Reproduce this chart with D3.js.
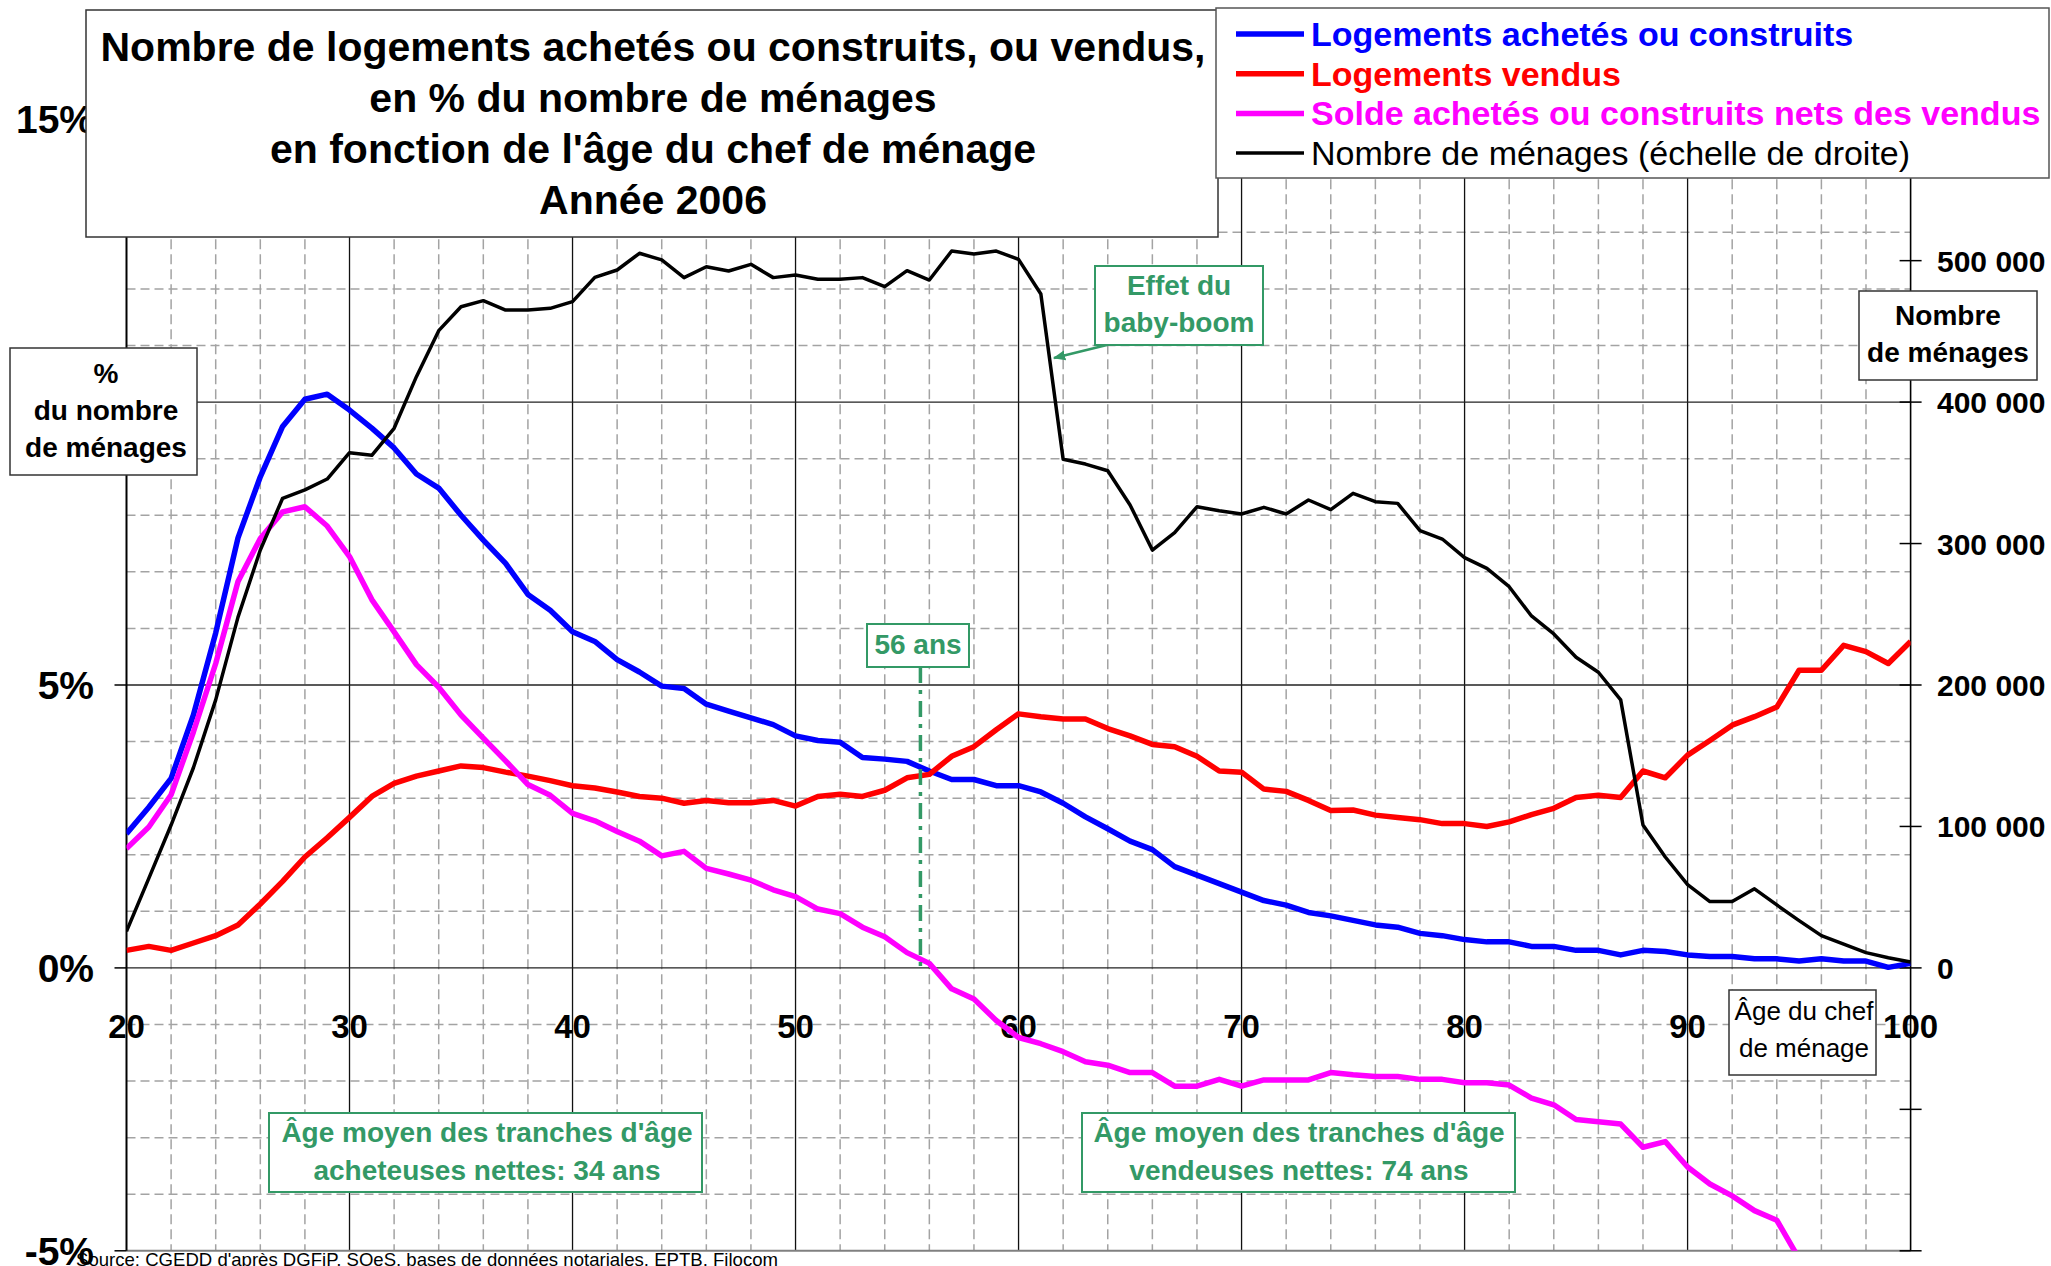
<!DOCTYPE html>
<html>
<head>
<meta charset="utf-8">
<script src="https://cdn.jsdelivr.net/npm/d3@7"></script>
<style>
  body { margin: 0; background: #fff; }
  text { font-family: "Liberation Sans", Arial, sans-serif; }
</style>
</head>
<body>
<script>
// age du chef de menage (categories)
var ages = [20,21,22,23,24,25,26,27,28,29,30,31,32,33,34,35,36,37,38,39,
	40,41,42,43,44,45,46,47,48,49,50,51,52,53,54,55,56,57,58,59,
	60,61,62,63,64,65,66,67,68,69,70,71,72,73,74,75,76,77,78,79,
	80,81,82,83,84,85,86,87,88,89,90,91,92,93,94,95,96,97,98,99,100];

// logements achetes ou construits, % des menages
var achetes = [2.37,2.84,3.35,4.47,5.92,7.60,8.68,9.57,10.05,10.14,
	9.86,9.54,9.19,8.73,8.48,8.00,7.56,7.15,6.60,6.32,
	5.94,5.77,5.45,5.23,4.98,4.94,4.66,4.54,4.42,4.30,
	4.10,4.02,3.99,3.72,3.69,3.65,3.48,3.33,3.33,3.22,
	3.22,3.11,2.91,2.67,2.46,2.24,2.09,1.79,1.64,1.49,
	1.34,1.19,1.11,0.98,0.92,0.84,0.76,0.72,0.61,0.57,
	0.50,0.46,0.46,0.38,0.38,0.31,0.31,0.23,0.31,0.29,
	0.23,0.20,0.20,0.16,0.16,0.12,0.16,0.12,0.12,0.01,0.08];

// logements vendus, % des menages
var vendus = [0.31,0.38,0.31,0.44,0.57,0.76,1.13,1.53,1.96,2.30,
	2.66,3.03,3.26,3.39,3.48,3.57,3.54,3.46,3.39,3.31,
	3.22,3.18,3.11,3.03,3.00,2.91,2.96,2.92,2.92,2.96,
	2.86,3.03,3.07,3.03,3.14,3.36,3.42,3.74,3.91,4.21,
	4.49,4.44,4.40,4.40,4.23,4.10,3.95,3.91,3.74,3.48,
	3.46,3.16,3.12,2.96,2.78,2.79,2.70,2.66,2.62,2.55,
	2.55,2.50,2.58,2.71,2.82,3.01,3.05,3.01,3.48,3.36,
	3.76,4.02,4.29,4.44,4.61,5.26,5.26,5.70,5.59,5.38,5.77];

// solde achetes ou construits nets des vendus (visible jusqu'a 95 ans)
var solde = [2.11,2.49,3.06,4.17,5.38,6.83,7.59,8.06,8.15,7.81,
	7.27,6.51,5.94,5.36,4.96,4.47,4.06,3.66,3.24,3.05,
	2.73,2.60,2.41,2.24,1.98,2.06,1.76,1.66,1.55,1.38,
	1.26,1.04,0.96,0.72,0.55,0.27,0.08,-0.37,-0.55,-0.93,
	-1.23,-1.34,-1.48,-1.66,-1.72,-1.85,-1.85,-2.09,-2.09,-1.97,
	-2.09,-1.98,-1.98,-1.98,-1.85,-1.89,-1.92,-1.92,-1.97,-1.97,
	-2.03,-2.03,-2.07,-2.30,-2.42,-2.68,-2.72,-2.76,-3.17,-3.07,
	-3.52,-3.82,-4.03,-4.29,-4.46,-5.14];

// nombre de menages (echelle de droite)
var menages = [25800,63300,101000,141500,189500,248000,295400,332000,337900,345600,
	364200,362400,381500,418000,450500,467400,471700,465100,465100,466300,
	471000,488200,493400,505200,500500,488000,495700,492700,497400,488000,
	489900,486800,486800,488000,481600,492900,486300,506800,504700,506800,
	500900,476400,359600,356200,351500,327300,295400,307700,326000,323200,
	320900,325600,320900,330800,324000,335500,329600,328400,309100,303200,
	290000,282500,269500,248800,236100,219600,209000,189500,101000,78400,
	58900,46900,46900,55900,44500,33400,22800,16800,10800,7200,4200];

var xTicks = [20,30,40,50,60,70,80,90,100];
var xMinor = [22,24,26,28,32,34,36,38,42,44,46,48,52,54,56,58,62,64,66,68,72,74,76,78,82,84,86,88,92,94,96,98];
var yTicks = [-5,0,5,10,15];
var yLabels = [-5,0,5,15]; // 10% est cache par l'encadre
var yMinor = [-4,-3,-2,-1,1,2,3,4,6,7,8,9,11,12,13,14];
var yRightTicks = [-200000,-100000,0,100000,200000,300000,400000,500000];

var titleLines = ["Nombre de logements achetés ou construits, ou vendus,",
	"en % du nombre de ménages",
	"en fonction de l'âge du chef de ménage",
	"Année 2006"];
var legendLabels = ["Logements achetés ou construits", "Logements vendus",
	"Solde achetés ou construits nets des vendus", "Nombre de ménages (échelle de droite)"];
var seriesColors = ["#0000ff", "#ff0000", "#ff00ff", "#000000"];

var green = "#339966";

setChart();

function setChart(){
	var width = 2051, height = 1266;
	var left = 126.5, right = 1910.6, top = 119.2, bottom = 1250.8;

	var svg = d3.select("body").append("svg")
		.attr("width", width)
		.attr("height", height);

	var x = d3.scaleLinear().domain([20, 100]).range([left, right]);
	var y = d3.scaleLinear().domain([-5, 15]).range([bottom, top]);
	var y2 = d3.scaleLinear().domain([-200000, 600000]).range([bottom, top]);

	//clip for plot area
	svg.append("clipPath").attr("id", "plot")
		.append("rect")
		.attr("x", left).attr("y", top)
		.attr("width", right - left).attr("height", bottom - top);

	//minor dashed gridlines
	var grid = svg.append("g");
	grid.selectAll(".vmin").data(xMinor).enter().append("line")
		.attr("x1", function(d){ return x(d); }).attr("x2", function(d){ return x(d); })
		.attr("y1", top).attr("y2", bottom)
		.attr("stroke", "#a3a3a3").attr("stroke-width", 1.5).attr("stroke-dasharray", "10,5");
	grid.selectAll(".hmin").data(yMinor).enter().append("line")
		.attr("x1", left).attr("x2", right)
		.attr("y1", function(d){ return y(d); }).attr("y2", function(d){ return y(d); })
		.attr("stroke", "#a3a3a3").attr("stroke-width", 1.5).attr("stroke-dasharray", "9,5");

	//major gridlines
	grid.selectAll(".vmaj").data(xTicks.slice(1, -1)).enter().append("line")
		.attr("x1", function(d){ return x(d); }).attr("x2", function(d){ return x(d); })
		.attr("y1", top).attr("y2", bottom)
		.attr("stroke", "#111").attr("stroke-width", 1.3);
	grid.selectAll(".hmaj").data([0, 5, 10, 15]).enter().append("line")
		.attr("x1", left).attr("x2", right)
		.attr("y1", function(d){ return y(d); }).attr("y2", function(d){ return y(d); })
		.attr("stroke", "#222").attr("stroke-width", 1.4);
	grid.append("line")
		.attr("x1", left).attr("x2", right).attr("y1", y(-5)).attr("y2", y(-5))
		.attr("stroke", "#808080").attr("stroke-width", 2);

	//left axis
	svg.append("line").attr("x1", left).attr("x2", left).attr("y1", top).attr("y2", bottom)
		.attr("stroke", "#000").attr("stroke-width", 2);
	svg.selectAll(".ltick").data(yTicks).enter().append("line")
		.attr("x1", left - 12).attr("x2", left)
		.attr("y1", function(d){ return y(d); }).attr("y2", function(d){ return y(d); })
		.attr("stroke", "#000").attr("stroke-width", 1.5);
	svg.selectAll(".llab").data(yLabels).enter().append("text")
		.attr("x", 94).attr("y", function(d){ return y(d) + 14; })
		.attr("text-anchor", "end")
		.attr("font-size", 39).attr("font-weight", "bold")
		.text(function(d){ return d + "%"; });

	//right axis
	svg.append("line").attr("x1", right).attr("x2", right).attr("y1", top).attr("y2", bottom)
		.attr("stroke", "#000").attr("stroke-width", 1.6);
	svg.selectAll(".rtick").data(yRightTicks).enter().append("line")
		.attr("x1", right - 11).attr("x2", right + 11)
		.attr("y1", function(d){ return y2(d); }).attr("y2", function(d){ return y2(d); })
		.attr("stroke", "#000").attr("stroke-width", 1.5);
	var fmt = d3.format(",");
	svg.selectAll(".rlab").data(yRightTicks.filter(function(d){ return d >= 0; })).enter().append("text")
		.attr("x", 1937).attr("y", function(d){ return y2(d) + 11; })
		.attr("font-size", 30).attr("font-weight", "bold")
		.text(function(d){ return fmt(d).replace(/,/g, " "); });

	//x labels (inside plot, under 0 line)
	svg.selectAll(".xlab").data(xTicks).enter().append("text")
		.attr("x", function(d){ return x(d); }).attr("y", 1038)
		.attr("text-anchor", "middle")
		.attr("font-size", 33).attr("font-weight", "bold")
		.text(function(d){ return d; });

	//series
	var lineL = d3.line()
		.x(function(d, i){ return x(ages[i]); })
		.y(function(d){ return y(d); });
	var lineR = d3.line()
		.x(function(d, i){ return x(ages[i]); })
		.y(function(d){ return y2(d); });

	var plot = svg.append("g").attr("clip-path", "url(#plot)");
	[achetes, vendus, solde].forEach(function(s, i){
		plot.append("path").datum(s)
			.attr("d", lineL)
			.attr("fill", "none")
			.attr("stroke", seriesColors[i])
			.attr("stroke-width", 5.5)
			.attr("stroke-linejoin", "round");
	});
	plot.append("path").datum(menages)
		.attr("d", lineR)
		.attr("fill", "none")
		.attr("stroke", "#000")
		.attr("stroke-width", 3.5)
		.attr("stroke-linejoin", "round");

	//56 ans marker
	svg.append("line")
		.attr("x1", x(55.6)).attr("x2", x(55.6))
		.attr("y1", 667).attr("y2", y(0))
		.attr("stroke", green).attr("stroke-width", 3.5)
		.attr("stroke-dasharray", "16,7,4,7");
	box(867, 624, 102, 43, green, 2);
	svg.append("text").attr("x", 918).attr("y", 654)
		.attr("text-anchor", "middle").attr("font-size", 28).attr("font-weight", "bold")
		.attr("fill", green).text("56 ans");

	//title box
	box(86, 10, 1132, 227, "#333", 1.5);
	svg.selectAll(".title").data(titleLines).enter().append("text")
		.attr("x", 653).attr("y", function(d, i){ return 61 + i * 51; })
		.attr("text-anchor", "middle")
		.attr("font-size", 41).attr("font-weight", "bold")
		.text(function(d){ return d; });

	//legend
	box(1216, 8, 833, 170, "#555", 1.5);
	legendLabels.forEach(function(l, i){
		var cy = 34 + i * 39.7;
		svg.append("line")
			.attr("x1", 1236).attr("x2", 1304).attr("y1", cy).attr("y2", cy)
			.attr("stroke", seriesColors[i]).attr("stroke-width", i == 3 ? 3.5 : 5.5);
		svg.append("text")
			.attr("x", 1311).attr("y", cy + 12)
			.attr("font-size", 34)
			.attr("font-weight", i == 3 ? "normal" : "bold")
			.attr("fill", seriesColors[i])
			.text(l);
	});

	//axis title boxes
	box(10, 348, 187, 127, "#333", 1.5);
	multiText(106, [383, 420, 457], ["%", "du nombre", "de ménages"], 28, "bold", "#000");
	box(1859, 291, 178, 89, "#333", 1.5);
	multiText(1948, [325, 361.5], ["Nombre", "de ménages"], 28, "bold", "#000");
	box(1729, 990, 147, 85, "#333", 1.5);
	multiText(1804, [1020, 1057], ["Âge du chef", "de ménage"], 26, "normal", "#000");

	//baby-boom annotation
	svg.append("defs").append("marker")
		.attr("id", "arrow").attr("viewBox", "0 0 10 10")
		.attr("refX", 9).attr("refY", 5)
		.attr("markerWidth", 5).attr("markerHeight", 5)
		.attr("orient", "auto")
		.append("path").attr("d", "M0,1 L10,5 L0,9 z").attr("fill", green);
	svg.append("line")
		.attr("x1", 1115).attr("y1", 343).attr("x2", 1054).attr("y2", 358)
		.attr("stroke", green).attr("stroke-width", 2.5)
		.attr("marker-end", "url(#arrow)");
	box(1095, 266, 168, 79, green, 2);
	multiText(1179, [295, 331.5], ["Effet du", "baby-boom"], 28, "bold", green);

	//average age boxes
	box(269, 1113, 433, 79, green, 2);
	multiText(487, [1142, 1180], ["Âge moyen des tranches d'âge", "acheteuses nettes: 34 ans"], 28, "bold", green);
	box(1082, 1113, 433, 79, green, 2);
	multiText(1299, [1142, 1180], ["Âge moyen des tranches d'âge", "vendeuses nettes: 74 ans"], 28, "bold", green);

	//source
	svg.append("text").attr("x", 76).attr("y", 1266)
		.attr("font-size", 18.5)
		.attr("textLength", 702).attr("lengthAdjust", "spacingAndGlyphs")
		.text("Source: CGEDD d'après DGFiP, SOeS, bases de données notariales, EPTB, Filocom");

	function box(bx, by, bw, bh, col, sw){
		svg.append("rect")
			.attr("x", bx).attr("y", by).attr("width", bw).attr("height", bh)
			.attr("fill", "#fff").attr("stroke", col).attr("stroke-width", sw);
	}
	function multiText(cx, ys, lines, size, weight, col){
		lines.forEach(function(t, i){
			svg.append("text")
				.attr("x", cx).attr("y", ys[i])
				.attr("text-anchor", "middle")
				.attr("font-size", size).attr("font-weight", weight)
				.attr("fill", col)
				.text(t);
		});
	}
}
</script>
</body>
</html>
